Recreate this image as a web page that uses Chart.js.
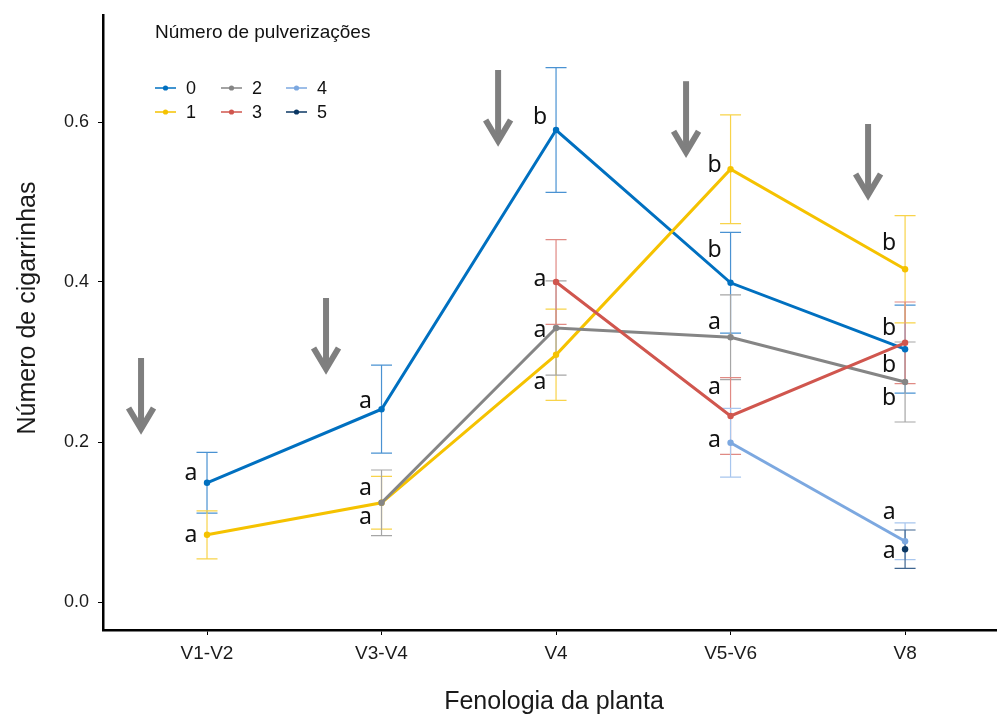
<!DOCTYPE html>
<html>
<head>
<meta charset="utf-8">
<script src="https://cdn.jsdelivr.net/npm/chart.js@4.4.0/dist/chart.umd.min.js"></script>
<style>
  html, body { margin: 0; padding: 0; background: #fff; }
</style>
</head>
<body>
<canvas id="chart" width="1000" height="716"></canvas>
<script>
// phenology stages on the x axis
const stages = ['V1-V2', 'V3-V4', 'V4', 'V5-V6', 'V8'];
const sprays = ['0', '1', '2', '3', '4', '5'];
const yTicks = [0, 0.2, 0.4, 0.6];

// mean leafhoppers per plant and error (+/-), one pair per number of sprays
const mean0 = [0.149, 0.241, 0.590, 0.399, 0.316];
const err0  = [0.038, 0.055, 0.078, 0.063, 0.055];
const mean1 = [0.084, 0.124, 0.309, 0.541, 0.416];
const err1  = [0.030, 0.033, 0.057, 0.068, 0.067];
const mean2 = [null, 0.124, 0.3425, 0.331, 0.275];
const err2  = [null, 0.041, 0.059, 0.053, 0.050];
const mean3 = [null, null, 0.400, 0.2325, 0.324];
const err3  = [null, null, 0.053, 0.048, 0.051];
const mean4 = [null, null, null, 0.199, 0.076];
const err4  = [null, null, null, 0.043, 0.023];
const mean5 = [null, null, null, null, 0.066];
const err5  = [null, null, null, null, 0.024];

// significance letters: stage index, baseline value, letter
const letterStage = [0, 0, 1, 1, 1, 2, 2, 2, 2, 3, 3, 3, 3, 3, 4, 4, 4, 4, 4, 4];
const letterValue = [0.1525, 0.075, 0.2425, 0.134, 0.0975, 0.5975, 0.395, 0.331, 0.266,
                     0.5375, 0.431, 0.341, 0.26, 0.194, 0.44, 0.334, 0.2875, 0.246, 0.104, 0.055];
const letterText  = ['a', 'a', 'a', 'a', 'a', 'b', 'a', 'a', 'a',
                     'b', 'b', 'a', 'a', 'a', 'b', 'b', 'b', 'b', 'a', 'a'];

// spray arrows: position along the stage axis and value at the top of the shaft
const arrowStage = [-0.378, 0.682, 1.668, 2.745, 3.788];
const arrowTop   = [0.305, 0.38, 0.665, 0.651, 0.5975];

const colors    = ['#0070c0', '#f5c200', '#858585', '#d0564e', '#7ca8e0', '#0b3763'];
const errColors = ['#4a92d2', '#f8d34a', '#a6a6a6', '#e08a84', '#a8c6ee', '#3e6590'];

const means = [mean0, mean1, mean2, mean3, mean4, mean5];
const errs = [err0, err1, err2, err3, err4, err5];

const FONT = 'Liberation Sans, Arial, sans-serif';

const decor = {
  id: 'decor',
  beforeDatasetsDraw(chart) {
    const { ctx, scales: { x, y } } = chart;
    ctx.save();
    ctx.lineWidth = 1.2;
    means.forEach((m, k) => {
      ctx.strokeStyle = errColors[k];
      m.forEach((v, i) => {
        if (v === null) return;
        const px = x.getPixelForValue(i);
        const top = y.getPixelForValue(v + errs[k][i]);
        const bot = y.getPixelForValue(v - errs[k][i]);
        ctx.beginPath();
        ctx.moveTo(px, top); ctx.lineTo(px, bot);
        ctx.moveTo(px - 10.5, top); ctx.lineTo(px + 10.5, top);
        ctx.moveTo(px - 10.5, bot); ctx.lineTo(px + 10.5, bot);
        ctx.stroke();
      });
    });
    ctx.restore();
  },
  afterDraw(chart) {
    const { ctx, scales: { x, y } } = chart;
    ctx.save();

    // arrows
    ctx.strokeStyle = '#7f7f7f';
    ctx.lineWidth = 6;
    arrowStage.forEach((s, i) => {
      const px = x.getPixelForValue(s);
      const top = y.getPixelForValue(arrowTop[i]);
      const tip = top + 76;
      ctx.lineCap = 'butt';
      ctx.beginPath();
      ctx.moveTo(px, top); ctx.lineTo(px, tip - 6);
      ctx.stroke();
      ctx.lineJoin = 'miter';
      ctx.beginPath();
      ctx.moveTo(px - 12.5, tip - 26);
      ctx.lineTo(px, tip - 5);
      ctx.lineTo(px + 12.5, tip - 26);
      ctx.stroke();
    });

    // letters
    ctx.fillStyle = '#111';
    ctx.font = '23px "Noto Sans", sans-serif';
    ctx.textAlign = 'center';
    ctx.textBaseline = 'alphabetic';
    letterText.forEach((t, i) => {
      ctx.fillText(t, x.getPixelForValue(letterStage[i]) - 16, y.getPixelForValue(letterValue[i]));
    });

    // axis titles
    ctx.fillStyle = '#1a1a1a';
    ctx.font = '25px ' + FONT;
    ctx.textAlign = 'center';
    ctx.textBaseline = 'middle';
    ctx.fillText('Fenologia da planta', 554, 702);
    ctx.save();
    ctx.translate(28, 308);
    ctx.rotate(-Math.PI / 2);
    ctx.fillText('Número de cigarrinhas', 0, 0);
    ctx.restore();

    // legend
    ctx.textAlign = 'left';
    ctx.textBaseline = 'middle';
    ctx.fillStyle = '#111';
    ctx.font = '19px ' + FONT;
    ctx.fillText('Número de pulverizações', 155, 33);
    ctx.font = '18px ' + FONT;
    const colX = [155, 221, 286];
    sprays.forEach((s, k) => {
      const lx = colX[Math.floor(k / 2)];
      const ly = k % 2 === 0 ? 88 : 112;
      ctx.strokeStyle = colors[k];
      ctx.lineWidth = 1.5;
      ctx.beginPath();
      ctx.moveTo(lx, ly); ctx.lineTo(lx + 21, ly);
      ctx.stroke();
      ctx.fillStyle = colors[k];
      ctx.beginPath();
      ctx.arc(lx + 10.5, ly, 2.6, 0, Math.PI * 2);
      ctx.fill();
      ctx.fillStyle = '#111';
      ctx.fillText(s, lx + 31, ly + 1);
    });
    ctx.restore();
  }
};

const datasets = means.map((m, k) => ({
  label: sprays[k],
  data: m.map((v, i) => ({ x: i, y: v })),
  borderColor: colors[k],
  backgroundColor: colors[k],
  borderWidth: 3,
  pointRadius: 3.2,
  pointBorderWidth: 0,
  tension: 0,
  spanGaps: false,
  order: 5 - k
}));

new Chart(document.getElementById('chart').getContext('2d'), {
  type: 'line',
  data: { datasets },
  options: {
    responsive: false,
    animation: false,
    devicePixelRatio: 1,
    layout: { padding: { top: 15, right: 0, bottom: 0, left: 0 } },
    plugins: { legend: { display: false }, tooltip: { enabled: false } },
    scales: {
      x: {
        type: 'linear',
        min: -0.596,
        max: 4.521,
        afterBuildTicks: sc => { sc.ticks = stages.map((_, i) => ({ value: i })); },
        afterFit: sc => { sc.height = 86; sc.paddingLeft = 0; sc.paddingRight = 0; },
        grid: { display: true, drawOnChartArea: false, drawTicks: true, tickLength: 5, color: '#000', lineWidth: 1 },
        border: { display: true, color: '#000', width: 2.5 },
        ticks: {
          callback: v => stages[v],
          font: { family: FONT, size: 19 },
          color: '#1a1a1a',
          padding: 7,
          maxRotation: 0,
          autoSkip: false
        },
        title: { display: false }
      },
      y: {
        min: -0.035,
        max: 0.73375,
        afterBuildTicks: sc => { sc.ticks = yTicks.map(v => ({ value: v })); },
        afterFit: sc => { sc.width = 103; sc.paddingTop = 0; sc.paddingBottom = 0; },
        grid: { display: true, drawOnChartArea: false, drawTicks: true, tickLength: 5, color: '#000', lineWidth: 1 },
        border: { display: true, color: '#000', width: 2.5 },
        ticks: {
          callback: v => v.toFixed(1),
          font: { family: FONT, size: 18 },
          color: '#1a1a1a',
          padding: 9
        },
        title: { display: false }
      }
    }
  },
  plugins: [decor]
});
</script>
</body>
</html>
